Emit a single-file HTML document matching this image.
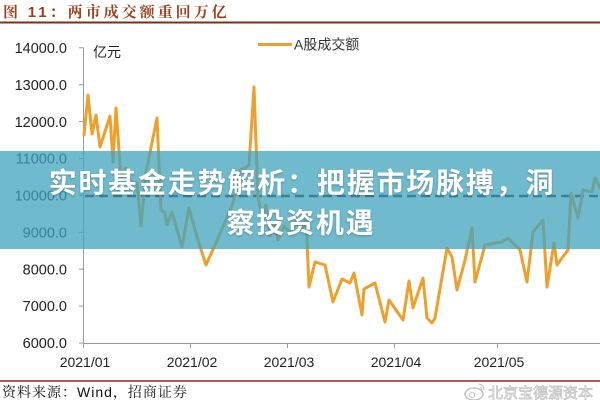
<!DOCTYPE html>
<html>
<head>
<meta charset="utf-8">
<style>
  html,body{margin:0;padding:0;background:#fff;}
  body{width:600px;height:400px;overflow:hidden;}
  svg{display:block;}
  .sans{font-family:"Liberation Sans","Noto Sans CJK SC",sans-serif;}
  .serif{font-family:"Liberation Serif","Noto Serif CJK SC",serif;}
</style>
</head>
<body>
<svg width="600" height="400" viewBox="0 0 600 400" xmlns="http://www.w3.org/2000/svg">
  <rect x="0" y="0" width="600" height="400" fill="#ffffff"/>

  <!-- Title -->
  <text x="3" y="17" class="serif" font-size="15" font-weight="bold" fill="#9c3f1c" letter-spacing="3">图 <tspan font-family="Liberation Sans, sans-serif" font-weight="bold">11</tspan>：两市成交额重回万亿</text>
  <line x1="0" y1="22.5" x2="600" y2="22.5" stroke="#7e2e1a" stroke-width="2"/>

  <!-- Y axis -->
  <g stroke="#9a9a9a" stroke-width="1">
    <line x1="83.5" y1="47.5" x2="83.5" y2="348"/>
    <line x1="79" y1="47.8" x2="83.5" y2="47.8"/>
    <line x1="79" y1="84.7" x2="83.5" y2="84.7"/>
    <line x1="79" y1="121.6" x2="83.5" y2="121.6"/>
    <line x1="79" y1="158.5" x2="83.5" y2="158.5"/>
    <line x1="79" y1="195.4" x2="83.5" y2="195.4"/>
    <line x1="79" y1="232.3" x2="83.5" y2="232.3"/>
    <line x1="79" y1="269.2" x2="83.5" y2="269.2"/>
    <line x1="79" y1="306.1" x2="83.5" y2="306.1"/>
    <line x1="79" y1="343" x2="83.5" y2="343"/>
    <!-- X axis -->
    <line x1="83.5" y1="343.5" x2="600" y2="343.5"/>
    <line x1="190.5" y1="343.5" x2="190.5" y2="348"/>
    <line x1="287.5" y1="343.5" x2="287.5" y2="348"/>
    <line x1="394.5" y1="343.5" x2="394.5" y2="348"/>
    <line x1="497.5" y1="343.5" x2="497.5" y2="348"/>
  </g>

  <g class="sans" font-size="14.5" fill="#222" text-anchor="end">
    <text x="67" y="53">14000.0</text>
    <text x="67" y="90">13000.0</text>
    <text x="67" y="127">12000.0</text>
    <text x="67" y="163.5">11000.0</text>
    <text x="67" y="200.5">10000.0</text>
    <text x="67" y="237.5">9000.0</text>
    <text x="67" y="274.5">8000.0</text>
    <text x="67" y="311">7000.0</text>
    <text x="67" y="348">6000.0</text>
  </g>

  <g class="sans" font-size="14" fill="#222" text-anchor="middle">
    <text x="85" y="367">2021/01</text>
    <text x="192" y="367">2021/02</text>
    <text x="289" y="367">2021/03</text>
    <text x="396" y="367">2021/04</text>
    <text x="499" y="367">2021/05</text>
  </g>

  <text x="93" y="57" class="sans" font-size="14" fill="#222">亿元</text>

  <!-- Legend -->
  <line x1="258" y1="44.5" x2="292" y2="44.5" stroke="#F0A02A" stroke-width="3"/>
  <text x="294" y="49.5" class="sans" font-size="14" fill="#333">A股成交额</text>

  <!-- Dashed 10000 line -->
  <line x1="85" y1="196" x2="600" y2="196" stroke="#1a2a3a" stroke-width="2.5" stroke-dasharray="9,5"/>

  <!-- Series -->
  <polyline fill="none" stroke="#F0A02A" stroke-width="3" stroke-linejoin="round" stroke-linecap="round"
    points="84,135 88,95 92,134 96,115 100,147 110,116 113,162 116,108 121,178 126,168 131,182 137,183 141,226 146,172 157,118 161,210 165,213 167,225 172,212 182,247 189,208 197,237 206,265 215,245 225,222 233,203 240,170 245,168 249,165 254,87 258,198 262,215 266,205 270,236 274,222 278,240 284,226 290,233 296,222 302,230 306,218 309,287 315,262 325,265 333,302 342,279 350,283 354,273 362,315 364,289 375,283 385,322 389,300 403,320 409,281 413,308 423,278 427,318 432,323 435,318 447,248 452,257 457,290 465,260 472,228 475,282 485,245 502,242 508,238 520,250 527,282 533,232 543,220 547,287 554,243 557,265 568,250 571,193 578,218 583,190 592,192 595,178 600,188"/>

  <!-- Overlay banner -->
  <rect x="0" y="151" width="600" height="98" fill="rgb(64,163,190)" fill-opacity="0.75"/>
  <g font-family="Liberation Sans, Noto Sans CJK SC, sans-serif" font-size="28" font-weight="bold" fill="#ffffff" text-anchor="middle" letter-spacing="1.8">
    <text x="302" y="192.5" style="text-shadow:0 1px 2px rgba(0,0,0,0.25)">实时基金走势解析：把握市场脉搏，洞</text>
    <text x="301" y="232.5" style="text-shadow:0 1px 2px rgba(0,0,0,0.25)">察投资机遇</text>
  </g>

  <!-- Bottom -->
  <line x1="0" y1="381" x2="600" y2="381" stroke="#a81a1a" stroke-width="1.5"/>
  <text x="2" y="397" class="serif" font-size="14" fill="#111" letter-spacing="1">资料来源：<tspan font-family="Liberation Sans, sans-serif">Wind</tspan>，招商证券</text>

  <!-- Watermark -->
  <g opacity="0.85">
    <ellipse cx="474" cy="394" rx="9" ry="6" fill="none" stroke="#b8b8b8" stroke-width="1.5"/>
    <circle cx="472" cy="395" r="2.5" fill="none" stroke="#b8b8b8" stroke-width="1"/>
    <path d="M479,384 q5,1 5,6" fill="none" stroke="#b8b8b8" stroke-width="1.2"/>
    <path d="M480,387 q2,0.5 2,3" fill="none" stroke="#b8b8b8" stroke-width="1"/>
    <text x="488" y="398" font-family="Liberation Sans, Noto Sans CJK SC, sans-serif" font-size="15" fill="#f4f4f4" stroke="#b5b5b5" stroke-width="0.7">北京宝德源资本</text>
  </g>
</svg>
</body>
</html>
